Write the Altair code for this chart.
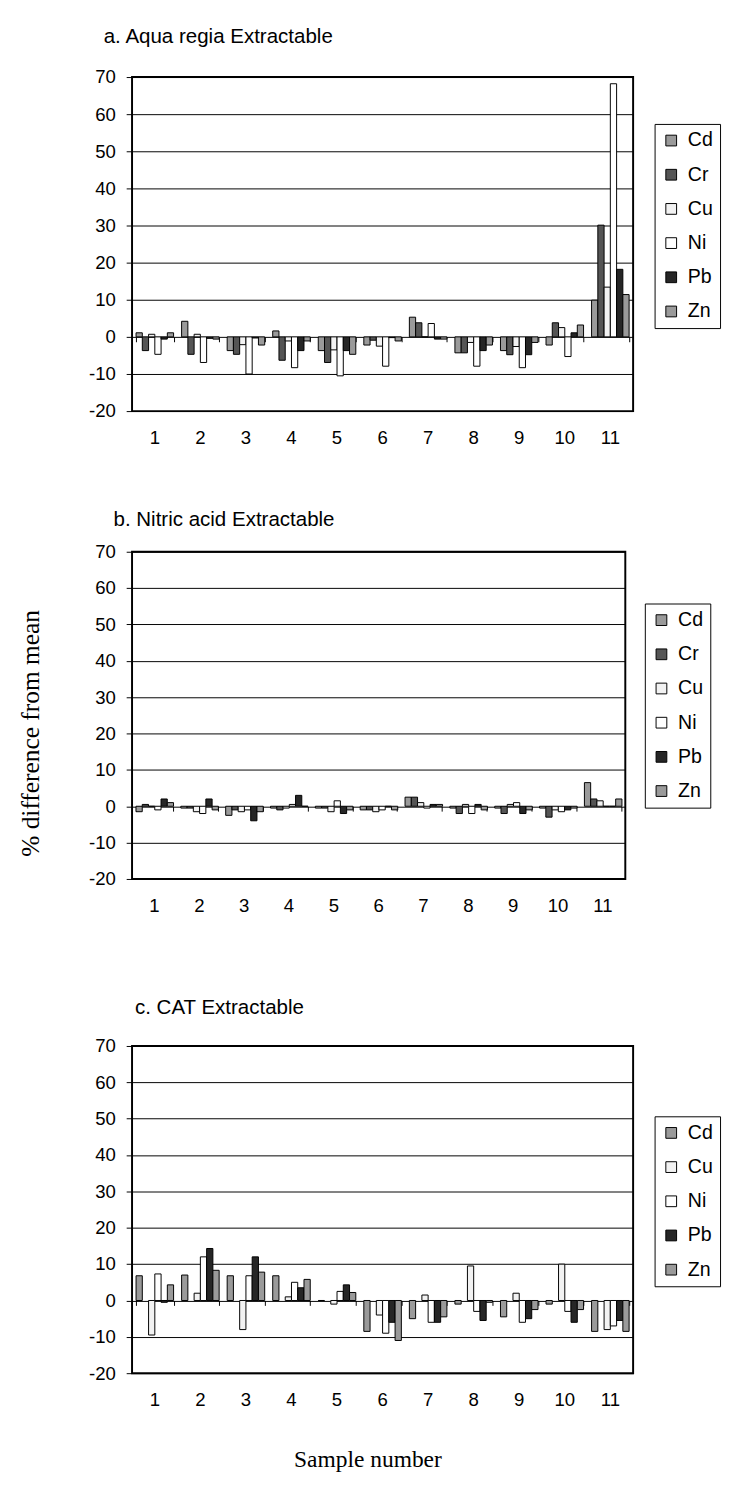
import altair as alt
import pandas as pd

samples = [str(i) for i in range(1, 12)]
metals_ab = ["Cd", "Cr", "Cu", "Ni", "Pb", "Zn"]
metals_c = ["Cd", "Cu", "Ni", "Pb", "Zn"]
metal_colors = {"Cd": "#9a9a9a", "Cr": "#555555", "Cu": "#f2f2f2",
                "Ni": "#ffffff", "Pb": "#262626", "Zn": "#9a9a9a"}

# a. Aqua regia Extractable
a_Cd = [1.1, 4.2, -3.7, 1.6, -3.7, -2.2, 5.3, -4.3, -3.7, -2.2, 9.9]
a_Cr = [-3.7, -4.7, -4.7, -6.3, -6.9, -0.9, 3.8, -4.3, -4.8, 3.8, 30.1]
a_Cu = [0.7, 0.7, -2.1, -1.1, -3.5, -2.5, 0.0, -1.5, -2.6, 2.5, 13.4]
a_Ni = [-4.7, -6.9, -10.0, -8.3, -10.5, -7.9, 3.6, -7.9, -8.3, -5.3, 68.2]
a_Pb = [-0.6, -0.4, -0.3, -3.7, -3.7, -0.2, -0.6, -3.7, -4.8, 1.1, 18.2]
a_Zn = [1.1, -0.6, -2.2, -1.1, -4.7, -1.1, -0.6, -2.2, -1.5, 3.2, 11.4]

# b. Nitric acid Extractable
b_Cd = [-1.5, -0.5, -2.5, -0.5, -0.5, -1.0, 2.5, -0.5, -0.5, -0.5, 6.5]
b_Cr = [0.5, -0.5, -1.0, -1.0, -0.5, -1.0, 2.5, -2.0, -2.0, -3.0, 2.0]
b_Cu = [0.0, -1.5, -1.5, -0.5, -1.5, -1.5, 1.0, 0.5, 0.5, -1.0, 1.5]
b_Ni = [-1.0, -2.0, -1.0, 0.5, 1.5, -1.0, -0.5, -2.0, 1.0, -1.5, 0.0]
b_Pb = [2.0, 2.0, -4.0, 3.0, -2.0, 0.0, 0.5, 0.5, -2.0, -1.0, 0.0]
b_Zn = [1.0, -1.0, -1.5, 0.0, -1.0, -1.0, 0.5, -1.0, -1.0, -0.5, 2.0]

# c. CAT Extractable
c_Cd = [6.8, 7.0, 6.8, 6.8, 0.0, -8.5, -5.0, -1.0, -4.5, -1.0, -8.5]
c_Cu = [-9.5, 2.0, -8.0, 1.0, -1.0, -4.0, 1.5, 9.5, 2.0, 10.0, -8.0]
c_Ni = [7.3, 12.0, 6.8, 5.0, 2.5, -9.0, -6.0, -3.0, -6.0, -3.0, -7.0]
c_Pb = [-0.5, 14.3, 12.0, 3.5, 4.3, -6.0, -6.0, -5.5, -5.0, -6.0, -5.5]
c_Zn = [4.3, 8.3, 7.8, 5.8, 2.2, -11.0, -4.5, -0.5, -2.5, -2.5, -8.5]

FONT = "Liberation Sans"
SERIF = "Liberation Serif"


def make_df(series):
    rows = []
    for metal, vals in series.items():
        for s, v in zip(samples, vals):
            rows.append({"sample": s, "metal": metal, "value": v})
    return pd.DataFrame(rows)


def panel(series, metals, width, height, title, title_dx, title_off,
          legend_dx, legend_dy, ytitle=None, xtitle=None):
    df = make_df(series)
    zero_y = height * 70.0 / 90.0
    colors = [metal_colors[m] for m in metals]
    xscale = alt.Scale(domain=samples, paddingInner=0.176, paddingOuter=0.088)
    yscale = alt.Scale(domain=[-20, 70], nice=False)
    yaxis_kw = dict(values=list(range(-20, 80, 10)), grid=True, gridColor="black",
                    gridWidth=1, domain=False, tickColor="black", tickSize=6,
                    labelPadding=11, labelFont=FONT, labelFontSize=19,
                    labelColor="black", labelExpr="'' + datum.value")
    if ytitle:
        yaxis_kw.update(title=ytitle, titleFont=SERIF, titleFontSize=26,
                        titleFontWeight="normal", titleColor="black",
                        titleX=-104, titleY=height / 2 + 18, titleAngle=270,
                        titleBaseline="middle", titleAlign="center")
    else:
        yaxis_kw.update(title=None)
    xaxis_kw = dict(labelAngle=0, domain=False, ticks=False, labelPadding=18,
                    labelFont=FONT, labelFontSize=19, labelColor="black")
    if xtitle:
        xaxis_kw.update(title=xtitle, titleFont=SERIF, titleFontSize=24,
                        titleFontWeight="normal", titleColor="black",
                        titlePadding=40, titleX=241, titleAlign="center")
    else:
        xaxis_kw.update(title=None)

    bars = alt.Chart(df).mark_bar(stroke="black", strokeWidth=1).encode(
        x=alt.X("sample:N", scale=xscale, sort=samples, axis=alt.Axis(**xaxis_kw)),
        xOffset=alt.XOffset("metal:N", sort=metals,
                            scale=alt.Scale(domain=metals, paddingInner=0, paddingOuter=0)),
        y=alt.Y("value:Q", scale=yscale, axis=alt.Axis(**yaxis_kw)),
        color=alt.Color("metal:N", sort=metals,
                        scale=alt.Scale(domain=metals, range=colors),
                        legend=alt.Legend(title=None, orient="none",
                                          legendX=width + legend_dx,
                                          legendY=legend_dy,
                                          strokeColor="black", padding=7,
                                          symbolType="square", symbolSize=121,
                                          symbolStrokeColor="black",
                                          symbolStrokeWidth=1,
                                          labelFont=FONT, labelFontSize=20,
                                          labelColor="black", rowPadding=15,
                                          labelOffset=7)),
    )
    ticks = alt.Chart(pd.DataFrame({"sample": samples})).mark_tick(opacity=0).encode(
        x=alt.X("sample:N", scale=xscale, sort=samples,
                axis=alt.Axis(orient="top", offset=-(zero_y + 5), labels=False,
                              domain=False, ticks=True, tickColor="black",
                              tickSize=5, tickBand="extent", title=None)),
    )
    return alt.layer(bars, ticks).resolve_axis(x="independent").properties(
        width=width, height=height,
        title=alt.TitleParams(title, anchor="start", frame="group", dx=title_dx,
                              font=FONT, fontSize=21, fontWeight="normal",
                              color="black", offset=title_off),
    )


pa = panel({"Cd": a_Cd, "Cr": a_Cr, "Cu": a_Cu, "Ni": a_Ni, "Pb": a_Pb, "Zn": a_Zn},
           metals_ab, 513, 342, "a. Aqua regia Extractable", -29, 22, 22, 48)
pb = panel({"Cd": b_Cd, "Cr": b_Cr, "Cu": b_Cu, "Ni": b_Ni, "Pb": b_Pb, "Zn": b_Zn},
           metals_ab, 505, 335, "b. Nitric acid Extractable", -19, 13, 20, 53,
           ytitle="% difference from mean")
pc = panel({"Cd": c_Cd, "Cu": c_Cu, "Ni": c_Ni, "Pb": c_Pb, "Zn": c_Zn},
           metals_c, 513, 335, "c. CAT Extractable", 3, 20, 22, 72,
           xtitle="Sample number")

top = alt.vconcat(pa, pb, spacing=62).resolve_scale(
    color="independent").resolve_legend(color="independent")
chart = alt.vconcat(top, pc, spacing=82).resolve_scale(
    color="independent").resolve_legend(color="independent").configure_view(
    stroke="black", strokeWidth=2
).properties(padding={"left": 9, "top": 0, "right": 0, "bottom": 5})

chart.save("out.html", embed_options={"renderer": "svg", "actions": False})
